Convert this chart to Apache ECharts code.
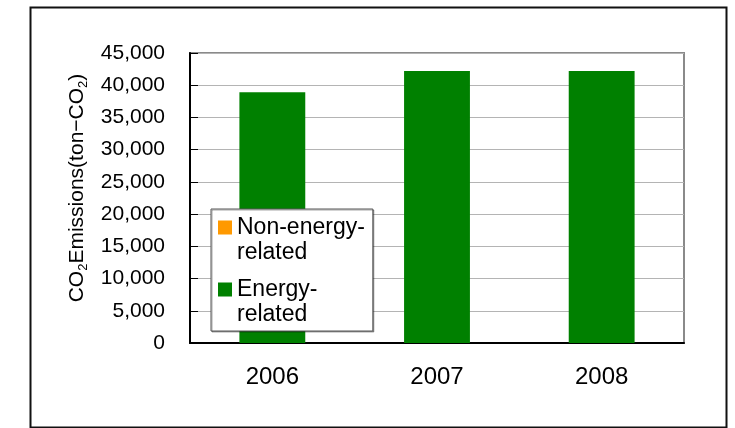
<!DOCTYPE html>
<html>
<head>
<meta charset="utf-8">
<script src="https://cdn.jsdelivr.net/npm/echarts@6/dist/echarts.min.js"></script>
<style>html,body{margin:0;padding:0;background:#fff;}#c{width:735px;height:428px;}</style>
</head>
<body>
<div id="c"></div>
<script>
var categories = ['2006', '2007', '2008'];
var energyRelated = [38900, 42200, 42200];
var nonEnergyRelated = [0, 0, 0];
var seriesNames = ['Non-energy-\nrelated', 'Energy-\nrelated'];
var yMin = 0, yMax = 45000, yStep = 5000;

var FONT = "'Liberation Sans', Arial, sans-serif";
var chart = echarts.init(document.getElementById('c'), null, {renderer: 'canvas'});
var legendIcon = 'path://M0,5.5L14,5.5L14,19.5L0,19.5Z M0,0L0.001,0 M0,50L0.001,50';
chart.setOption({
  animation: false,
  backgroundColor: '#fff',
  graphic: [{
    type: 'rect', left: 28, top: 5,
    shape: {width: 696, height: 420},
    style: {fill: 'none', stroke: '#111', lineWidth: 2}
  }],
  grid: {left: 190, top: 53, right: 51, bottom: 85, show: true, borderColor: '#8a8a8a', borderWidth: 2, containLabel: false},
  legend: {
    orient: 'vertical', left: 211, top: 209,
    data: seriesNames,
    backgroundColor: '#fff', borderColor: '#555', borderWidth: 1,
    shadowColor: 'rgba(0,0,0,0.35)', shadowOffsetX: 1, shadowOffsetY: 1, shadowBlur: 0,
    padding: [6, 8, 4, 7],
    itemWidth: 14, itemHeight: 50, itemGap: 12,
    icon: legendIcon,
    selectedMode: false,
    textStyle: {fontFamily: FONT, fontSize: 23, color: '#000', lineHeight: 25}
  },
  xAxis: {
    type: 'category', data: categories,
    axisLine: {lineStyle: {color: '#000', width: 2}},
    axisTick: {inside: true, length: 8, lineStyle: {color: '#000', width: 1}},
    axisLabel: {fontFamily: FONT, fontSize: 24, color: '#000', margin: 22}
  },
  yAxis: {
    type: 'value', min: yMin, max: yMax, interval: yStep,
    name: '{a|CO}{s|2}{a|Emissions(ton−CO}{s|2}{a|)}',
    nameLocation: 'middle', nameGap: 100,
    nameTextStyle: {
      padding: [0, 0, 0, 20],
      rich: {
        a: {fontFamily: FONT, fontSize: 21, color: '#000', lineHeight: 26, verticalAlign: 'middle'},
        s: {fontFamily: FONT, fontSize: 13, color: '#000', lineHeight: 26, verticalAlign: 'bottom'}
      }
    },
    axisLine: {show: true, lineStyle: {color: '#000', width: 2}},
    axisTick: {show: true, inside: true, length: 8, lineStyle: {color: '#000', width: 1}},
    splitLine: {lineStyle: {color: '#b4b4b4', width: 1}},
    axisLabel: {fontFamily: FONT, fontSize: 21, color: '#000', margin: 25,
      formatter: function (v) { return v.toLocaleString('en-US'); }}
  },
  series: [
    {name: seriesNames[1], type: 'bar', stack: 'total', data: energyRelated, barWidth: '40%', itemStyle: {color: '#008000'}},
    {name: seriesNames[0], type: 'bar', stack: 'total', data: nonEnergyRelated, barWidth: '40%', itemStyle: {color: '#FF9900'}}
  ]
});
</script>
</body>
</html>
